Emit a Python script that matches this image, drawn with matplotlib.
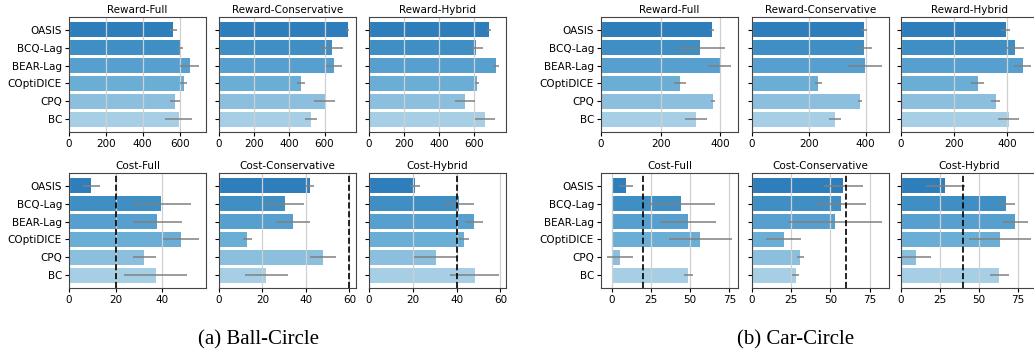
import numpy as np
import matplotlib
matplotlib.use('Agg')
import matplotlib.pyplot as plt

methods = ['OASIS', 'BCQ-Lag', 'BEAR-Lag', 'COptiDICE', 'CPQ', 'BC']
colors = ['#2f7ebc', '#3f8fc5', '#569fce', '#6aaed6', '#8bbfdd', '#a6cfe5']

# Ball-Circle: means and std per metric / setting
ball_reward_full = [567, 600, 654, 622, 573, 595]
ball_reward_full_err = [20, 16, 54, 20, 27, 72]
ball_reward_cons = [732, 641, 653, 465, 600, 522]
ball_reward_cons_err = [10, 66, 47, 23, 60, 35]
ball_reward_hyb = [688, 613, 729, 619, 550, 665]
ball_reward_hyb_err = [10, 40, 19, 13, 58, 57]
ball_cost_full = [9.6, 39.7, 38.0, 48.3, 32.4, 37.2]
ball_cost_full_err = [3.7, 12.6, 10.5, 7.8, 5.0, 13.5]
ball_cost_cons = [41.7, 30.2, 34.0, 13.1, 47.7, 21.8]
ball_cost_cons_err = [2.0, 9.0, 7.8, 1.9, 6.0, 10.0]
ball_cost_hyb = [21.2, 40.9, 47.9, 43.4, 30.5, 48.4]
ball_cost_hyb_err = [2.3, 7.2, 4.0, 2.5, 10.0, 11.2]
ball_thresholds = [20, 60, 40]

# Car-Circle
car_reward_full = [372, 333, 397, 266, 375, 319]
car_reward_full_err = [6, 82, 40, 20, 8, 36]
car_reward_cons = [394, 394, 399, 233, 380, 292]
car_reward_cons_err = [9, 29, 60, 13, 6, 22]
car_reward_hyb = [394, 428, 458, 288, 356, 405]
car_reward_hyb_err = [16, 34, 33, 23, 16, 40]
car_cost_full = [9.0, 44.3, 48.8, 56.5, 5.3, 48.8]
car_cost_full_err = [4.5, 21.5, 17.8, 20.0, 8.1, 3.0]
car_cost_cons = [58.3, 56.6, 53.2, 20.1, 30.9, 27.8]
car_cost_cons_err = [12.7, 16.0, 30.0, 11.2, 2.5, 2.1]
car_cost_hyb = [28.4, 67.5, 73.3, 63.7, 9.8, 63.0]
car_cost_hyb_err = [12.7, 5.5, 8.0, 19.9, 9.4, 5.9]
car_thresholds = [20, 60, 40]

titles = ['Reward-Full', 'Reward-Conservative', 'Reward-Hybrid',
          'Cost-Full', 'Cost-Conservative', 'Cost-Hybrid']

W, H = 1034, 360
fig = plt.figure(figsize=(W / 100, H / 100), dpi=100)


def draw_panel(left_px, top_px, vals, errs, title, show_labels, threshold=None):
    ax = fig.add_axes([left_px / W, 1 - (top_px + 115) / H, 137 / W, 115 / H])
    y = np.arange(len(methods))
    ax.barh(y, vals, xerr=errs, color=colors, height=0.83,
            error_kw=dict(ecolor='#808080', elinewidth=1.1, capsize=0))
    if threshold is not None:
        ax.axvline(threshold, color='black', linestyle='--', linewidth=1.2)
    ax.set_yticks(y)
    ax.set_ylim(len(methods) - 0.3, -0.7)
    if show_labels:
        ax.set_yticklabels(methods, fontsize=7.5)
    else:
        ax.set_yticklabels([])
    ax.tick_params(axis='x', labelsize=7.5, length=3, pad=2)
    ax.tick_params(axis='y', length=3, pad=2)
    ax.grid(axis='x', color='#d0d0d0', linewidth=0.9)
    ax.set_axisbelow('line')
    for s in ax.spines.values():
        s.set_color('#444444')
    ax.set_title(title, fontsize=7.5, pad=3)
    return ax


ball = [(ball_reward_full, ball_reward_full_err), (ball_reward_cons, ball_reward_cons_err),
        (ball_reward_hyb, ball_reward_hyb_err), (ball_cost_full, ball_cost_full_err),
        (ball_cost_cons, ball_cost_cons_err), (ball_cost_hyb, ball_cost_hyb_err)]
car = [(car_reward_full, car_reward_full_err), (car_reward_cons, car_reward_cons_err),
       (car_reward_hyb, car_reward_hyb_err), (car_cost_full, car_cost_full_err),
       (car_cost_cons, car_cost_cons_err), (car_cost_hyb, car_cost_hyb_err)]

for group, lefts, thresholds in [(ball, [69, 219, 369], ball_thresholds),
                                 (car, [601, 752, 901], car_thresholds)]:
    for i, (vals, errs) in enumerate(group):
        row, col = divmod(i, 3)
        top = 17 if row == 0 else 173
        thr = thresholds[col] if row == 1 else None
        draw_panel(lefts[col], top, vals, errs, titles[i], col == 0, thr)

fig.text(259 / W, 1 - 340 / H, '(a) Ball-Circle', ha='center', va='center',
         fontsize=15, family='Liberation Serif')
fig.text(796 / W, 1 - 340 / H, '(b) Car-Circle', ha='center', va='center',
         fontsize=15, family='Liberation Serif')

fig.savefig('out.png', dpi=100)
